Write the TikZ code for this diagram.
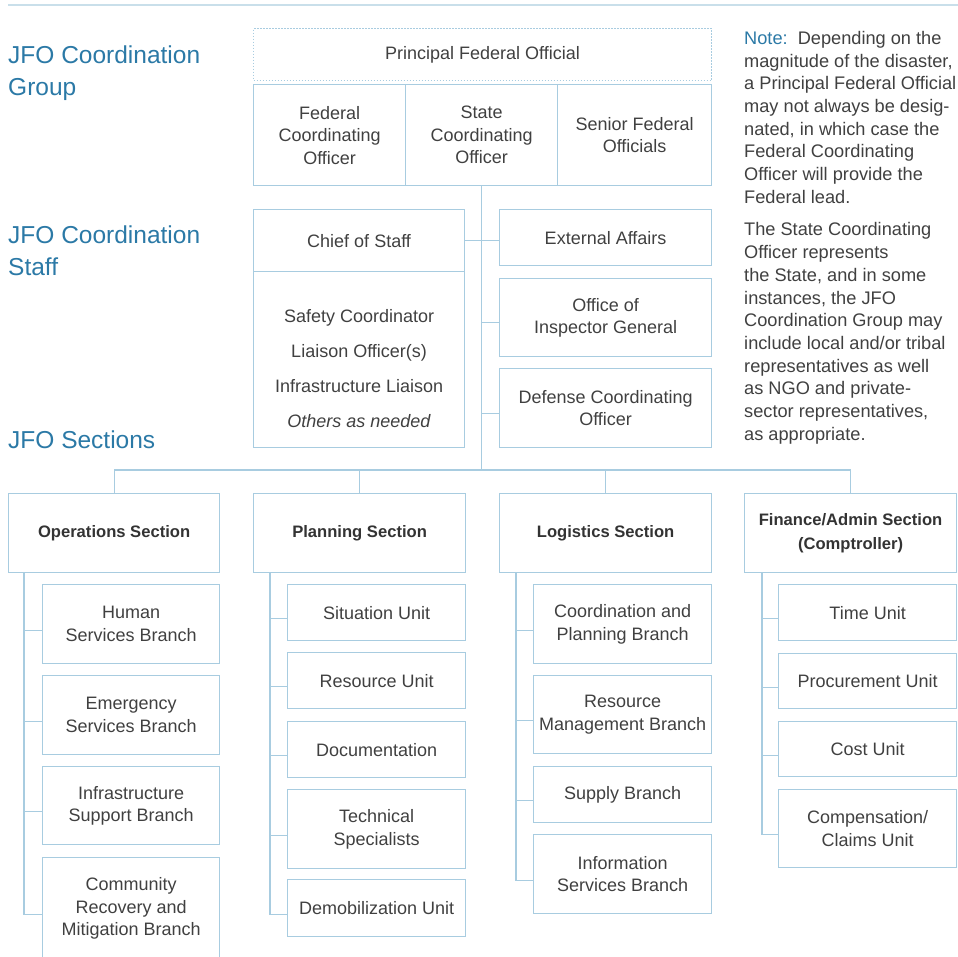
\documentclass[tikz,border=0pt]{standalone}
\usepackage{fontspec}
\setmainfont{Liberation Sans}
\definecolor{linec}{HTML}{A8CCE0}
\definecolor{rulec}{HTML}{C9DFEA}
\definecolor{headc}{HTML}{2B79A6}
\definecolor{textc}{HTML}{404040}
\begin{document}
\begin{tikzpicture}[x=1pt,y=-1pt,
    box/.style={draw=linec, line width=1.2pt, anchor=north west, inner sep=0pt,
      align=center, text=textc, font=\fontsize{18}{22.5}\selectfont},
    sec/.style={box, text=black!80, font=\fontsize{16.6}{24}\selectfont\bfseries},
    head/.style={anchor=north west, inner sep=0pt, align=left, text=headc,
      font=\fontsize{24.5}{32}\selectfont},
    link/.style={draw=linec, line width=1.2pt}]
  \useasboundingbox (0,0) rectangle (958,956);
  \clip (0,0) rectangle (958,956);
  \draw[rulec, line width=2.5pt] (8,5) -- (958,5);
  \node[head] (hgrp) at (8,46) {JFO Coordination\\Group};
  \node[head] (hstf) at (8,226) {JFO Coordination\\Staff};
  \node[head] (hsec) at (8,431) {JFO Sections};
  \node[anchor=north west, inner sep=0pt, align=left, text=textc,
    font=\fontsize{18.2}{22.7}\selectfont] (note) at (744,31)
    {\textcolor{headc}{Note:}\ \ Depending on the\\magnitude of the disaster,\\
     a Principal Federal Official\\may not always be desig-\\nated, in which case the\\
     Federal Coordinating\\Officer will provide the\\Federal lead.\\[10pt]
     The State Coordinating\\Officer represents\\the State, and in some\\
     instances, the JFO\\Coordination Group may\\include local and/or tribal\\
     representatives as well\\as NGO and private-\\sector representatives,\\
     as appropriate.};
  \node[box, line width=1pt, dash pattern=on 1.5pt off 1.5pt,
    minimum width=458pt, minimum height=52pt] (pfo) at (253,28) {Principal Federal Official};
  \node[box, minimum width=152pt, minimum height=101pt] (fco) at (253,84) {Federal\\Coordinating\\Officer};
  \node[box, minimum width=152pt, minimum height=101pt] (sco) at (405,84) {State\\Coordinating\\Officer};
  \node[box, minimum width=154pt, minimum height=101pt] (sfo) at (557,84) {Senior Federal\\Officials};
  \node[box, minimum width=211pt, minimum height=62pt] (cos) at (253,209) {Chief of Staff};
  \node[box, minimum width=211pt, minimum height=176pt,
    font=\fontsize{18}{34.7}\selectfont] (cst) at (253,271)
    {\rule{0pt}{31pt}Safety Coordinator\\Liaison Officer(s)\\Infrastructure Liaison\\\textit{Others as needed}};
  \node[box, minimum width=212pt, minimum height=56pt] (ext) at (499,209) {External Affairs};
  \node[box, minimum width=212pt, minimum height=78pt] (oig) at (499,278) {Office of\\Inspector General};
  \node[box, minimum width=212pt, minimum height=79pt] (dco) at (499,368) {Defense Coordinating\\Officer};
  \node[sec, minimum width=211pt, minimum height=79pt] (ops) at (8,493) {Operations Section};
  \node[sec, minimum width=212pt, minimum height=79pt] (pln) at (253,493) {Planning Section};
  \node[sec, minimum width=212pt, minimum height=79pt] (lgs) at (499,493) {Logistics Section};
  \node[sec, minimum width=212pt, minimum height=79pt] (fin) at (744,493) {Finance/Admin Section\\(Comptroller)};
  \coordinate (bus) at (sco.south |- 0,470);
  \draw[link] (sco.south) -- (bus);
  \draw[link] (ops.north) |- (bus) -| (fin.north);
  \draw[link] (pln.north) -- (pln.north |- bus);
  \draw[link] (lgs.north) -- (lgs.north |- bus);
  \draw[link] (cos.east) -- (cos.east -| ext.west);
  \draw[link] ([yshift=-5pt]oig.west) -- ([yshift=-5pt]oig.west -| bus);
  \draw[link] ([yshift=-5pt]dco.west) -- ([yshift=-5pt]dco.west -| bus);
  \foreach \nm/\y/\h/\txt in {hsb/584/79/{Human\\Services Branch},
      esb/675/79/{Emergency\\Services Branch}, isb/766/78/{Infrastructure\\Support Branch},
      crb/857/102/{Community\\Recovery and\\Mitigation Branch}}{
    \node[box, minimum width=177pt, minimum height=\h pt] (\nm) at (42,\y) {\txt};
    \draw[link] ([xshift=16pt]ops.south west) |- ([yshift=-6pt]\nm.west);
  }
  \foreach \nm/\y/\h/\txt in {sit/584/56/{Situation Unit}, res/652/56/{Resource Unit},
      doc/721/56/{Documentation}, tec/789/79/{Technical\\Specialists},
      dem/879/57/{Demobilization Unit}}{
    \node[box, minimum width=178pt, minimum height=\h pt] (\nm) at (287,\y) {\txt};
    \draw[link] ([xshift=17pt]pln.south west) |- ([yshift=-6pt]\nm.west);
  }
  \foreach \nm/\y/\h/\txt in {cpb/584/79/{Coordination and\\Planning Branch},
      rmb/675/78/{Resource\\Management Branch}, spb/766/56/{Supply Branch},
      isv/834/79/{Information\\Services Branch}}{
    \node[box, minimum width=178pt, minimum height=\h pt] (\nm) at (533,\y) {\txt};
    \draw[link] ([xshift=17pt]lgs.south west) |- ([yshift=-6pt]\nm.west);
  }
  \foreach \nm/\y/\h/\txt in {tim/584/56/{Time Unit}, prc/653/55/{Procurement Unit},
      cot/721/55/{Cost Unit}, cmp/789/78/{Compensation/\\Claims Unit}}{
    \node[box, minimum width=178pt, minimum height=\h pt] (\nm) at (778,\y) {\txt};
    \draw[link] ([xshift=18pt]fin.south west) |- ([yshift=-6pt]\nm.west);
  }
\end{tikzpicture}
\end{document}
